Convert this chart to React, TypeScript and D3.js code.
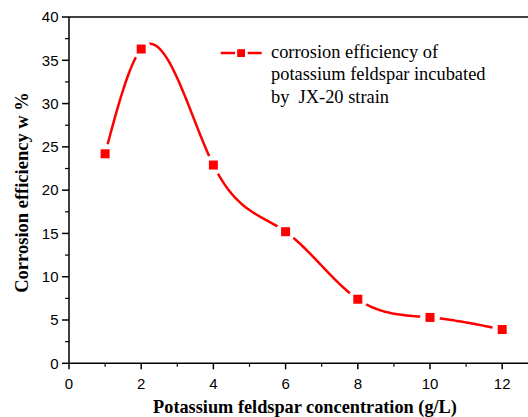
import React from "react";
import * as d3 from "d3";

const xValues = [1, 2, 4, 6, 8, 10, 12];
const yValues = [24.2, 36.3, 22.9, 15.2, 7.4, 5.3, 3.9];
const xTicks = [0, 2, 4, 6, 8, 10, 12];
const yTicks = [0, 5, 10, 15, 20, 25, 30, 35, 40];
const legendLines = ["corrosion efficiency of", "potassium feldspar incubated", "by  JX-20 strain"];
const xTitle = "Potassium feldspar concentration (g/L)";
const yTitle = "Corrosion efficiency w %";

function naturalSpline(xs: number[], ys: number[]) {
  const n = xs.length;
  const h = xs.slice(1).map((v, i) => v - xs[i]);
  const a: number[] = new Array(n).fill(0);
  const b: number[] = new Array(n).fill(1);
  const c: number[] = new Array(n).fill(0);
  const r: number[] = new Array(n).fill(0);
  for (let i = 1; i < n - 1; i++) {
    a[i] = h[i - 1];
    b[i] = 2 * (h[i - 1] + h[i]);
    c[i] = h[i];
    r[i] = 6 * ((ys[i + 1] - ys[i]) / h[i] - (ys[i] - ys[i - 1]) / h[i - 1]);
  }
  const cp = new Array(n).fill(0);
  const dp = new Array(n).fill(0);
  cp[0] = c[0] / b[0];
  dp[0] = r[0] / b[0];
  for (let i = 1; i < n; i++) {
    const m = b[i] - a[i] * cp[i - 1];
    cp[i] = c[i] / m;
    dp[i] = (r[i] - a[i] * dp[i - 1]) / m;
  }
  const M = new Array(n).fill(0);
  M[n - 1] = dp[n - 1];
  for (let i = n - 2; i >= 0; i--) M[i] = dp[i] - cp[i] * M[i + 1];
  return (xv: number) => {
    let i = 0;
    while (i < n - 2 && xv > xs[i + 1]) i++;
    const hi = h[i];
    const A = (xs[i + 1] - xv) / hi;
    const B = (xv - xs[i]) / hi;
    return A * ys[i] + B * ys[i + 1] + ((A * A * A - A) * M[i] + (B * B * B - B) * M[i + 1]) * hi * hi / 6;
  };
}

export default function App() {
  const W = 528, H = 417;
  const left = 69, top = 17, bottom = 363.3;
  const x = d3.scaleLinear().domain([0, 12]).range([left, left + 36.1 * 12]);
  const y = d3.scaleLinear().domain([0, 40]).range([bottom, top]);
  const pts: [number, number][] = xValues.map((v, i) => [x(v), y(yValues[i])]);
  const f = naturalSpline(xValues, yValues);
  const samples = d3.range(xValues[0], xValues[xValues.length - 1] + 0.001, 0.05);
  const line = d3.line<number>().x((d) => x(d)).y((d) => y(f(d)))(samples) || "";
  const red = "#ff0000";
  const xMinor = d3.range(1, 13, 2);
  const yMinor = d3.range(2.5, 40, 5);
  const serif = "Liberation Serif";
  const sans = "Liberation Sans";
  return (
    <svg width={W} height={H} style={{ position: "absolute", left: 0, top: 0, background: "#fff" }}>
      <rect width={W} height={H} fill="#fff" />
      <path d={line} fill="none" stroke={red} strokeWidth={2.5} />
      {pts.map((p, i) => (
        <circle key={"g" + i} cx={p[0]} cy={p[1]} r={10} fill="#fff" />
      ))}
      {pts.map((p, i) => (
        <rect key={"m" + i} x={p[0] - 4.5} y={p[1] - 4.5} width={9} height={9} fill={red} />
      ))}
      <line x1={left} x2={W} y1={top} y2={top} stroke="#000" strokeWidth={1.5} />
      <line x1={left} x2={W} y1={bottom} y2={bottom} stroke="#000" strokeWidth={1.5} />
      <line x1={left} x2={left} y1={top} y2={bottom + 0.75} stroke="#000" strokeWidth={1.5} />
      {xTicks.map((t) => (
        <g key={"xt" + t}>
          <line x1={x(t)} x2={x(t)} y1={bottom} y2={bottom + 6} stroke="#000" strokeWidth={1.5} />
          <text x={x(t)} y={388.5} textAnchor="middle" fontFamily={sans} fontSize={15}>{t}</text>
        </g>
      ))}
      {xMinor.map((t) => (
        <line key={"xm" + t} x1={x(t)} x2={x(t)} y1={bottom} y2={bottom + 3.5} stroke="#000" strokeWidth={1.2} />
      ))}
      {yTicks.map((t) => (
        <g key={"yt" + t}>
          <line x1={left - 7} x2={left} y1={y(t)} y2={y(t)} stroke="#000" strokeWidth={1.5} />
          <text x={58.5} y={y(t) + 5.3} textAnchor="end" fontFamily={sans} fontSize={15}>{t}</text>
        </g>
      ))}
      {yMinor.map((t) => (
        <line key={"ym" + t} x1={left - 4} x2={left} y1={y(t)} y2={y(t)} stroke="#000" strokeWidth={1.2} />
      ))}
      <text x={305} y={413} textAnchor="middle" fontFamily={serif} fontWeight="bold" fontSize={18.3}>{xTitle}</text>
      <text transform={`translate(28,192.5) rotate(-90)`} textAnchor="middle" fontFamily={serif} fontWeight="bold" fontSize={18.5}>{yTitle}</text>
      <line x1={220.7} x2={235} y1={53} y2={53} stroke={red} strokeWidth={2.5} />
      <line x1={247.7} x2={261.7} y1={53} y2={53} stroke={red} strokeWidth={2.5} />
      <rect x={237.2} y={49.2} width={7.8} height={7.8} fill={red} />
      {legendLines.map((s, i) => (
        <text key={"l" + i} x={271} y={57.7 + i * 22.5} fontFamily={serif} fontSize={18.4} style={{ whiteSpace: "pre" }}>{s}</text>
      ))}
    </svg>
  );
}
